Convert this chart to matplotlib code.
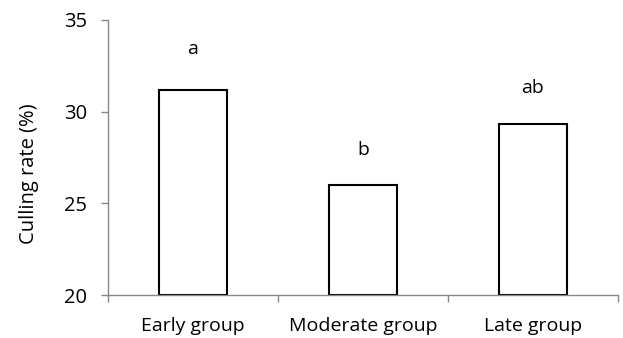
import matplotlib.pyplot as plt
import numpy as np

groups = ['Early group', 'Moderate group', 'Late group']
culling_rate = [31.2, 26.0, 29.3]
letters = ['a', 'b', 'ab']
letter_pos = [33.4, 27.9, 31.3]

plt.rcParams['font.family'] = ['Open Sans', 'DejaVu Sans']

fig = plt.figure(figsize=(6.23, 3.38), dpi=100)
ax = fig.add_axes([0.173, 0.127, 0.819, 0.814])

x = np.arange(len(groups))
ax.bar(x, np.array(culling_rate) - 20, bottom=20, width=0.4,
       color='white', edgecolor='black', linewidth=1.5)

for xi, lab, yp in zip(x, letters, letter_pos):
    ax.text(xi, yp, lab, ha='center', va='center', fontsize=14)

ax.set_xlim(-0.5, 2.5)
ax.set_ylim(20, 35)
ax.set_yticks([20, 25, 30, 35])
ax.set_xticks(x)
ax.set_xticklabels(groups, fontsize=14)
ax.set_xticks([-0.5, 0.5, 1.5, 2.5], minor=True)
ax.tick_params(axis='x', which='major', length=0, pad=16)
ax.tick_params(axis='x', which='minor', length=5, color='#888888', width=1)
ax.tick_params(axis='y', length=5, color='#888888', width=1, labelsize=14.5, pad=10)
ax.set_ylabel('Culling rate (%)', fontsize=14.5)
ax.yaxis.set_label_coords(-0.134, 0.44)

for s in ['top', 'right']:
    ax.spines[s].set_visible(False)
for s in ['left', 'bottom']:
    ax.spines[s].set_color('#888888')
    ax.spines[s].set_linewidth(1)

fig.savefig('out.png', dpi=100)
